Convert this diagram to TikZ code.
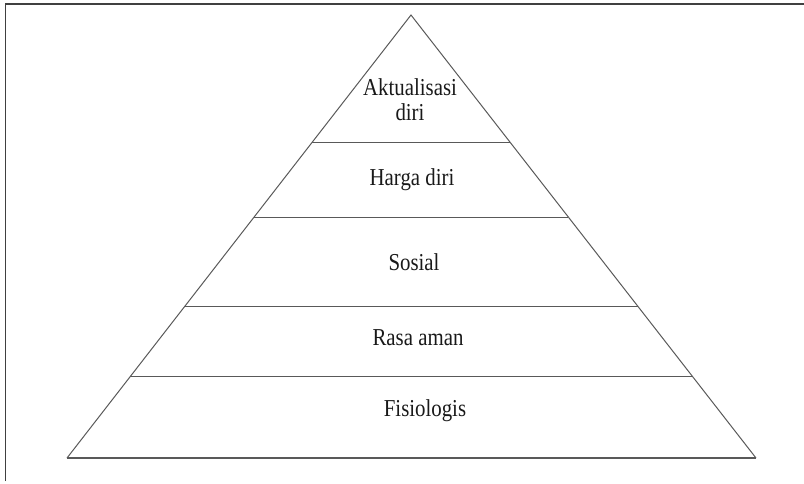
\documentclass[tikz,border=0pt]{standalone}
\usepackage{fontspec}
\usepackage{graphicx}
\setmainfont{Liberation Serif}
\usetikzlibrary{calc}
\newcommand{\tallt}[1]{\scalebox{0.97}[1.13]{#1}}
\begin{document}
\begin{tikzpicture}[x=1pt,y=-1pt,
  edge/.style={draw=black!65,line width=1pt},
  frame/.style={draw=black!75,line width=1.8pt},
  lbl/.style={font=\fontsize{21.5}{25}\selectfont,align=center,inner sep=0pt,anchor=base,text=black!90}]
\useasboundingbox (0,0) rectangle (804,483);
% frame
\coordinate (ftl) at (5.5,4);
\coordinate (fbl) at (5.5,481);
\coordinate (ftr) at (804,4);
\draw[frame] (fbl) -- (ftl) -- (ftr);
% pyramid
\coordinate (A) at (411,15);
\coordinate (L) at (67,458);
\coordinate (R) at (756,458);
\draw[edge] (L) -- (A) -- (R);
\draw[edge,line width=1.6pt] (L) -- (R);
\foreach \t/\n in {0.2867/a,0.456/b,0.659/c,0.817/d}{
  \coordinate (l\n) at ($(A)!\t!(L)$);
  \coordinate (r\n) at ($(A)!\t!(R)$);
  \draw[edge] (l\n) -- (r\n);
}
% labels
\node[lbl] (aktual) at (410,95) {\tallt{Aktualisasi}};
\node[lbl] (diri) at (410,120) {\tallt{diri}};
\node[lbl] (harga) at (412,185) {\tallt{Harga diri}};
\node[lbl] (sosial) at (414,270) {\tallt{Sosial}};
\node[lbl] (rasa) at (418,345) {\tallt{Rasa aman}};
\node[lbl] (fisio) at (425,416) {\tallt{Fisiologis}};
\end{tikzpicture}
\end{document}
